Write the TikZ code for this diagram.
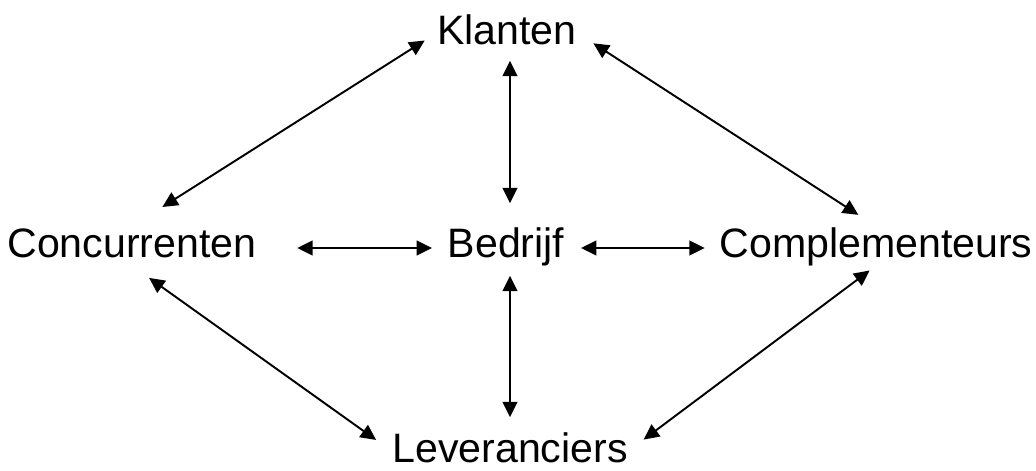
\documentclass[tikz,border=0pt]{standalone}
\usepackage{fontspec}
\setmainfont{Liberation Sans}
\usetikzlibrary{positioning, arrows.meta}

\begin{document}
\begin{tikzpicture}[
		partij/.style={inner sep=0pt, anchor=base, text height=0.31cm, text depth=0.07cm, font=\fontsize{11.7}{13}\selectfont},
		relatie/.style={{Triangle[length=4.4pt,width=4.2pt]}-{Triangle[length=4.4pt,width=4.2pt]}, line width=0.55pt}
	]
		\useasboundingbox (0,0) rectangle (10.36,4.71);
		\def\MidY{2.13} % basislijn middelste rij
		
		% De vijf partijen
		\node[partij] (klanten) at (5.07, 4.26) {Klanten};
		\node[partij] (bedrijf) at (5.06, \MidY) {Bedrijf};
		\node[partij] (concurrenten) at (1.32, \MidY) {Concurrenten};
		\node[partij] (complementeurs) at (8.76, \MidY) {Complementeurs};
		\node[partij] (leveranciers) at (5.10, 0.08) {Leveranciers};
		
		% Relaties met het bedrijf
		\draw[relatie, shorten <=0.08cm, shorten >=0.23cm] ([xshift=0.03cm]klanten.south) -- ([xshift=0.04cm]bedrijf.north);
		\draw[relatie, shorten <=0.10cm, shorten >=0.14cm] ([xshift=0.04cm]bedrijf.south) -- ([xshift=0.0cm]leveranciers.north);
		\draw[relatie, shorten <=0.40cm, shorten >=0.15cm] ([yshift=-0.02cm]concurrenten.east) -- ([yshift=-0.02cm]bedrijf.west);
		\draw[relatie, shorten <=0.16cm, shorten >=0.14cm] ([yshift=-0.02cm]bedrijf.east) -- ([yshift=-0.02cm]complementeurs.west);
		
		% Relaties rondom
		\draw[relatie, shorten <=0.14cm, shorten >=0.36cm] (klanten.west) -- (concurrenten.north);
		\draw[relatie, shorten <=0.19cm, shorten >=0.21cm] (klanten.east) -- (complementeurs.north);
		\draw[relatie, shorten <=0.21cm, shorten >=0.19cm] (concurrenten.south) -- (leveranciers.west);
		\draw[relatie, shorten <=0.08cm, shorten >=0.19cm] (complementeurs.south) -- (leveranciers.east);
		
	\end{tikzpicture}
\end{document}
